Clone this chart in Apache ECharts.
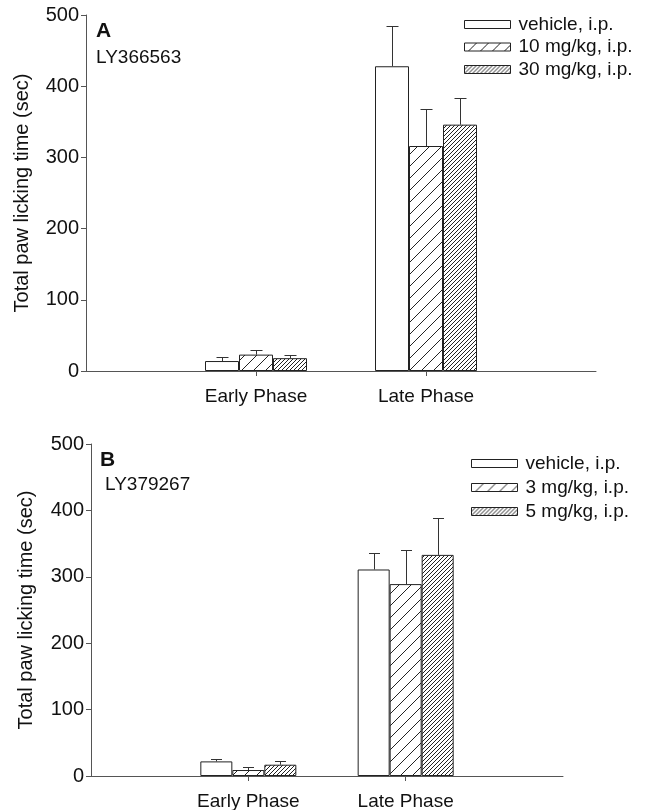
<!DOCTYPE html>
<html>
<head>
<meta charset="utf-8">
<script src="https://cdn.jsdelivr.net/npm/echarts@6/dist/echarts.min.js"></script>
<style>html,body{margin:0;padding:0;background:#fff}#c{width:647px;height:810px}</style>
</head>
<body>
<div id="c"></div>
<script>
// ---- data ----
const categories = ['', 'Early Phase', 'Late Phase', ''];
const yTicks = [0, 100, 200, 300, 400, 500];
const legendA = ['vehicle, i.p.', '10 mg/kg, i.p.', '30 mg/kg, i.p.'];
const legendB = ['vehicle, i.p.', '3 mg/kg, i.p.', '5 mg/kg, i.p.'];
// panel A (LY366563): [Early, Late]
const aVehicle = [14, 428];
const aVehicleErr = [5, 57];
const aDose10 = [23, 316];
const aDose10Err = [6, 52];
const aDose30 = [18, 346];
const aDose30Err = [5, 37];
// panel B (LY379267): [Early, Late]
const bVehicle = [22, 311];
const bVehicleErr = [4, 25];
const bDose3 = [9, 289];
const bDose3Err = [5, 51];
const bDose5 = [17, 333];
const bDose5Err = [5, 55];

// ---- styles ----
const FONT = '"Liberation Sans", Arial, sans-serif';
const INK = '#111';
const AXIS = '#555';

function hatch(step, lw) {
  const c = document.createElement('canvas');
  c.width = step; c.height = step;
  const ctx = c.getContext('2d');
  ctx.fillStyle = '#fff';
  ctx.fillRect(0, 0, step, step);
  ctx.strokeStyle = '#222';
  ctx.lineWidth = lw;
  ctx.beginPath();
  ctx.moveTo(-1, step + 1); ctx.lineTo(step + 1, -1);
  ctx.moveTo(-1, 1); ctx.lineTo(1, -1);
  ctx.moveTo(step - 1, step + 1); ctx.lineTo(step + 1, step - 1);
  ctx.stroke();
  return c;
}
const fills = [
  '#ffffff',
  { image: hatch(12, 1), repeat: 'repeat' },
  { image: hatch(4, 1), repeat: 'repeat' }
];

function pad(arr) { return ['-', arr[0], arr[1], '-']; }

function barSeries(name, vals, idx, axisIdx, barW) {
  return {
    type: 'bar', name: name, xAxisIndex: axisIdx, yAxisIndex: axisIdx,
    data: pad(vals), barWidth: barW, barGap: '0%',
    itemStyle: { color: fills[idx], borderColor: '#222', borderWidth: 1 },
    emphasis: { disabled: true }, animation: false, silent: true
  };
}

function errSeries(groups, axisIdx, barW, cap) {
  const data = [];
  groups.forEach((g, gi) => {
    g.vals.forEach((v, ci) => data.push([ci + 1, v, g.errs[ci], gi]));
  });
  return {
    type: 'custom', xAxisIndex: axisIdx, yAxisIndex: axisIdx, z: 5,
    animation: false, silent: true,
    encode: { x: 0, y: 1 },
    data: data,
    renderItem: function (params, api) {
      const c = api.value(0), m = api.value(1), e = api.value(2), g = api.value(3);
      const base = api.coord([c, m]);
      const top = api.coord([c, m + e]);
      const x = Math.round(base[0] + (g - 1) * barW) + 0.5;
      const yt = Math.round(top[1]) + 0.5;
      return {
        type: 'group',
        children: [
          { type: 'line', shape: { x1: x, y1: base[1], x2: x, y2: yt }, style: { stroke: '#333', lineWidth: 1 } },
          { type: 'line', shape: { x1: x - cap / 2, y1: yt, x2: x + cap / 2, y2: yt }, style: { stroke: '#333', lineWidth: 1 } }
        ]
      };
    }
  };
}

function xAxis(gi, margin) {
  return {
    type: 'category', gridIndex: gi, data: categories, boundaryGap: false,
    axisLine: { show: true, lineStyle: { color: AXIS, width: 1 } },
    axisTick: { show: true, length: 5, lineStyle: { color: AXIS }, interval: function (i) { return i === 1 || i === 2; } },
    axisLabel: { interval: 0, margin: margin, color: INK, fontSize: 19, fontFamily: FONT },
    splitLine: { show: false }
  };
}
function yAxis(gi, nameGap) {
  return {
    type: 'value', gridIndex: gi, min: yTicks[0], max: yTicks[yTicks.length - 1], interval: yTicks[1] - yTicks[0],
    name: 'Total paw licking time (sec)', nameLocation: 'middle', nameGap: nameGap,
    nameTextStyle: { color: INK, fontSize: 20, fontFamily: FONT },
    axisLine: { show: true, lineStyle: { color: AXIS, width: 1 } },
    axisTick: { show: true, inside: false, length: 5, lineStyle: { color: AXIS } },
    axisLabel: { margin: 7, color: INK, fontSize: 20, fontFamily: FONT },
    splitLine: { show: false }
  };
}
function legend(names, left, top, gap) {
  return {
    data: names, orient: 'vertical', left: left, top: top, itemGap: gap,
    itemWidth: 46, itemHeight: 8, icon: 'rect', selectedMode: false,
    itemStyle: { borderColor: '#222', borderWidth: 1 },
    textStyle: { color: INK, fontSize: 19, fontFamily: FONT, lineHeight: 19, padding: [0, 0, 0, 3] }
  };
}

const BW_A = 34, BW_B = 32;

const option = {
  backgroundColor: '#fff',
  animation: false,
  textStyle: { fontFamily: FONT },
  grid: [
    { left: 86, right: 51, top: 15, bottom: 439, containLabel: false, outerBoundsMode: 'none' },
    { left: 91, right: 84, top: 444, bottom: 34, containLabel: false, outerBoundsMode: 'none' }
  ],
  xAxis: [xAxis(0, 16), xAxis(1, 16)],
  yAxis: [yAxis(0, 54), yAxis(1, 55)],
  legend: [legend(legendA, 459, 10, 3.5), legend(legendB, 466, 449, 5)],
  graphic: [
    { type: 'text', left: 96, top: 21, style: { text: 'A', fill: INK, font: 'bold 21px ' + FONT } },
    { type: 'text', left: 96, top: 48, style: { text: 'LY366563', fill: INK, font: '19px ' + FONT } },
    { type: 'text', left: 100, top: 450, style: { text: 'B', fill: INK, font: 'bold 21px ' + FONT } },
    { type: 'text', left: 105, top: 475, style: { text: 'LY379267', fill: INK, font: '19px ' + FONT } }
  ],
  series: [
    barSeries(legendA[0], aVehicle, 0, 0, BW_A),
    barSeries(legendA[1], aDose10, 1, 0, BW_A),
    barSeries(legendA[2], aDose30, 2, 0, BW_A),
    errSeries([
      { vals: aVehicle, errs: aVehicleErr },
      { vals: aDose10, errs: aDose10Err },
      { vals: aDose30, errs: aDose30Err }
    ], 0, BW_A, 12),
    barSeries(legendB[0], bVehicle, 0, 1, BW_B),
    barSeries(legendB[1], bDose3, 1, 1, BW_B),
    barSeries(legendB[2], bDose5, 2, 1, BW_B),
    errSeries([
      { vals: bVehicle, errs: bVehicleErr },
      { vals: bDose3, errs: bDose3Err },
      { vals: bDose5, errs: bDose5Err }
    ], 1, BW_B, 11)
  ]
};

const chart = echarts.init(document.getElementById('c'), null, { renderer: 'canvas' });
chart.setOption(option);
</script>
</body>
</html>
